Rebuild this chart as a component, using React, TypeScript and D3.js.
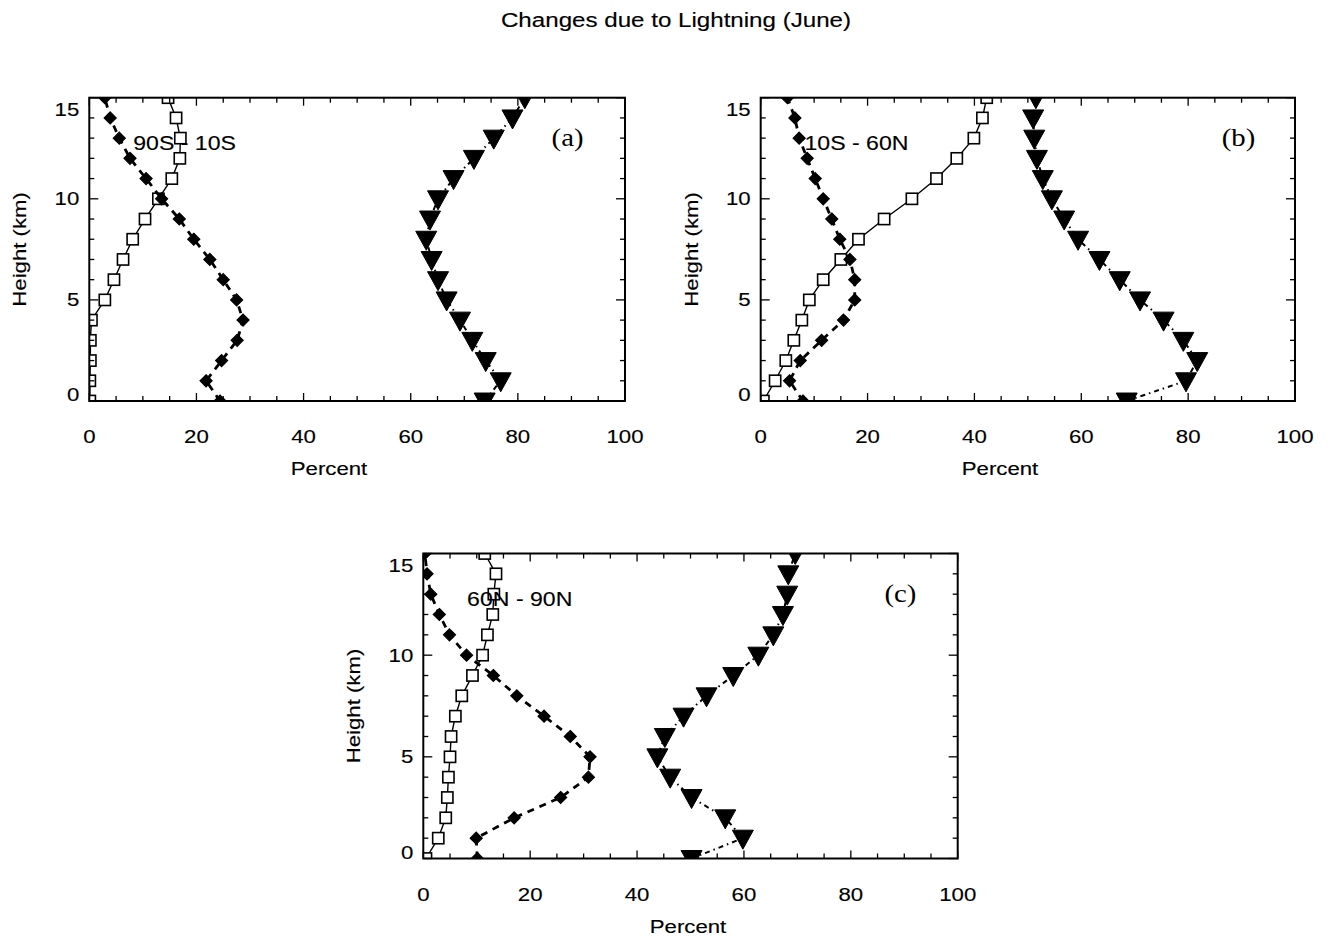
import * as d3 from "d3";

// heights of the model levels (km)
const heightsKm = [0, 1, 2, 3, 4, 5, 6, 7, 8, 9, 10, 11, 12, 13, 14, 15];

// (a) 90S - 10S
const squaresA = [0.1, 0.1, 0.2, 0.2, 0.4, 2.9, 4.6, 6.3, 8.1, 10.4, 12.9, 15.4, 16.9, 17.0, 16.2, 14.7];
const diamondsA = [24.4, 21.8, 24.7, 27.6, 28.7, 27.5, 25.0, 22.5, 19.5, 16.8, 13.5, 10.6, 7.6, 5.6, 3.9, 2.9];
const trianglesA = [73.8, 76.8, 74.0, 71.5, 69.2, 66.7, 65.1, 63.9, 62.9, 63.6, 65.1, 68.0, 71.8, 75.5, 79.0, 81.3];

// (b) 10S - 60N
const squaresB = [0.5, 2.7, 4.7, 6.2, 7.7, 9.1, 11.7, 15.0, 18.3, 23.1, 28.3, 32.9, 36.7, 39.9, 41.5, 42.3];
const diamondsB = [7.9, 5.4, 7.4, 11.4, 15.5, 17.6, 17.6, 16.7, 14.8, 13.3, 11.7, 10.2, 8.7, 7.2, 6.4, 5.0];
const trianglesB = [68.5, 79.6, 81.7, 79.1, 75.4, 71.0, 67.2, 63.4, 59.4, 56.8, 54.5, 52.8, 51.7, 51.2, 51.0, 51.5];

// (c) 60N - 90N
const squaresC = [0.5, 2.8, 4.2, 4.5, 4.7, 5.0, 5.2, 6.0, 7.2, 9.2, 11.1, 12.0, 13.0, 13.2, 13.6, 11.5];
const diamondsC = [10.1, 9.9, 17.0, 25.7, 30.9, 31.2, 27.5, 22.6, 17.5, 13.1, 8.1, 4.9, 3.0, 1.4, 0.7, 0.3];
const trianglesC = [50.2, 59.8, 56.5, 50.2, 46.2, 43.8, 45.2, 48.7, 53.0, 58.0, 62.7, 65.5, 67.3, 68.1, 68.3, 69.6];

const xTicks = [0, 20, 40, 60, 80, 100];
const xMinor = [0, 5, 10, 15, 20, 25, 30, 35, 40, 45, 50, 55, 60, 65, 70, 75, 80, 85, 90, 95, 100];
const yTicks = [0, 5, 10, 15];
const yMinor = [0, 1, 2, 3, 4, 5, 6, 7, 8, 9, 10, 11, 12, 13, 14, 15];

const FONT = "'Liberation Sans', Arial, Helvetica, sans-serif";
const SERIF = "'Liberation Serif', 'Times New Roman', serif";

type Panel = {
  id: string;
  tag: string;
  region: string;
  squares: number[];
  diamonds: number[];
  triangles: number[];
  left: number;
  right: number;
  top: number;
  bottom: number;
  percentX: number;
};

const panels: Panel[] = [
  { id: "a", tag: "(a)", region: "90S - 10S", squares: squaresA, diamonds: diamondsA, triangles: trianglesA,
    left: 89.3, right: 625, top: 97.7, bottom: 401, percentX: 329 },
  { id: "b", tag: "(b)", region: "10S - 60N", squares: squaresB, diamonds: diamondsB, triangles: trianglesB,
    left: 760.7, right: 1295, top: 97.7, bottom: 401, percentX: 1000 },
  { id: "c", tag: "(c)", region: "60N - 90N", squares: squaresC, diamonds: diamondsC, triangles: trianglesC,
    left: 423.3, right: 957.7, top: 553.5, bottom: 858.5, percentX: 688 },
];

// text that is a bit wider than Liberation Sans, like the scanned Helvetica
function WideText(props: {
  x: number; y: number; size: number; sx?: number; anchor?: string; rotate?: number;
  dy?: string; family?: string; weight?: number; children: any;
}) {
  const { x, y, size, sx = 1.2, anchor = "start", rotate = 0, dy, family = FONT, weight = 0.15, children } = props;
  return (
    <text transform={`translate(${x},${y}) rotate(${rotate}) scale(${sx},1)`} textAnchor={anchor}
      dy={dy} fontFamily={family} fontSize={size} fill="#000"
      stroke={weight > 0 ? "#000" : "none"} strokeWidth={weight}>
      {children}
    </text>
  );
}

function PanelPlot({ p }: { p: Panel }) {
  const x = d3.scaleLinear().domain([0, 100]).range([p.left, p.right]);
  const y = d3.scaleLinear().domain([0, 15]).range([p.bottom, p.top]);
  const line = d3
    .line<[number, number]>()
    .x((d) => x(d[0]))
    .y((d) => y(d[1]));
  const pts = (vals: number[]) => vals.map((v, i) => [v, heightsKm[i]] as [number, number]);
  const clipId = `clip-${p.id}`;
  const sq = 5.6;
  const dm = 6;
  const tw = 10.5;
  const th = 19;

  return (
    <g>
      <defs>
        <clipPath id={clipId}>
          <rect x={p.left} y={p.top} width={p.right - p.left} height={p.bottom - p.top} />
        </clipPath>
      </defs>
      <g clipPath={`url(#${clipId})`}>
        {/* squares, solid */}
        <path d={line(pts(p.squares)) || ""} fill="none" stroke="#000" strokeWidth={1.4} />
        {pts(p.squares).map((d, i) => (
          <rect key={`s${i}`} x={x(d[0]) - sq} y={y(d[1]) - sq} width={sq * 2} height={sq * 2}
            fill="#fff" stroke="#000" strokeWidth={1.6} />
        ))}
        {/* diamonds, dashed */}
        <path d={line(pts(p.diamonds)) || ""} fill="none" stroke="#000" strokeWidth={2.8} strokeDasharray="7,6" />
        {pts(p.diamonds).map((d, i) => {
          const cx = x(d[0]);
          const cy = y(d[1]);
          return (
            <path key={`d${i}`} d={`M${cx},${cy - dm}L${cx + dm},${cy}L${cx},${cy + dm}L${cx - dm},${cy}Z`}
              fill="#000" stroke="#000" strokeWidth={1.2} />
          );
        })}
        {/* triangles, dash-dot */}
        <path d={line(pts(p.triangles)) || ""} fill="none" stroke="#000" strokeWidth={2} strokeDasharray="5,4,1.5,4" />
        {pts(p.triangles).map((d, i) => {
          const cx = x(d[0]);
          const cy = y(d[1]);
          return (
            <path key={`t${i}`} d={`M${cx - tw},${cy - th * 0.42}L${cx + tw},${cy - th * 0.42}L${cx},${cy + th * 0.58}Z`}
              fill="#000" stroke="#000" strokeWidth={1} />
          );
        })}
      </g>

      {/* frame */}
      <rect x={p.left} y={p.top} width={p.right - p.left} height={p.bottom - p.top}
        fill="none" stroke="#000" strokeWidth={2} />

      {/* x ticks bottom + top */}
      {xMinor.map((v) => {
        const len = xTicks.includes(v) ? 8 : 5;
        return (
          <g key={`xt${v}`} stroke="#000" strokeWidth={1.3}>
            <line x1={x(v)} x2={x(v)} y1={p.bottom} y2={p.bottom - len} />
            <line x1={x(v)} x2={x(v)} y1={p.top} y2={p.top + len} />
          </g>
        );
      })}
      {/* y ticks left + right */}
      {yMinor.map((v) => {
        const len = yTicks.includes(v) ? 9 : 5;
        return (
          <g key={`yt${v}`} stroke="#000" strokeWidth={1.3}>
            <line x1={p.left} x2={p.left + len} y1={y(v)} y2={y(v)} />
            <line x1={p.right} x2={p.right - len} y1={y(v)} y2={y(v)} />
          </g>
        );
      })}

      {xTicks.map((v) => (
        <WideText key={`xl${v}`} x={x(v)} y={p.bottom + 42} size={18.5} anchor="middle">
          {v}
        </WideText>
      ))}
      {yTicks.map((v) => {
        const cy = Math.min(Math.max(y(v), p.top + 12), p.bottom - 6);
        return (
          <WideText key={`yl${v}`} x={p.left - 10} y={cy} dy="0.35em" size={18.5} anchor="end">
            {v}
          </WideText>
        );
      })}

      <WideText x={p.percentX} y={p.bottom + 74} size={18.5} anchor="middle">
        Percent
      </WideText>
      <WideText x={p.left - 63} y={(p.top + p.bottom) / 2} size={18.5} anchor="middle" rotate={-90}>
        Height (km)
      </WideText>

      <WideText x={x(8.2)} y={y(12.8)} dy="0.35em" size={21} sx={1.1}>
        {p.region}
      </WideText>
      <WideText x={x(86.3)} y={y(12.6)} size={25} sx={1.15} family={SERIF} weight={0}>
        {p.tag}
      </WideText>
    </g>
  );
}

export default function App() {
  return (
    <div style={{ position: "absolute", left: 0, top: 0, background: "#fff" }}>
      <svg width={1328} height={939} style={{ display: "block", background: "#fff" }}>
        <rect width={1328} height={939} fill="#fff" />
        <WideText x={676} y={27} size={21} sx={1.15} anchor="middle">
          Changes due to Lightning (June)
        </WideText>
        {panels.map((p) => (
          <PanelPlot key={p.id} p={p} />
        ))}
      </svg>
    </div>
  );
}
